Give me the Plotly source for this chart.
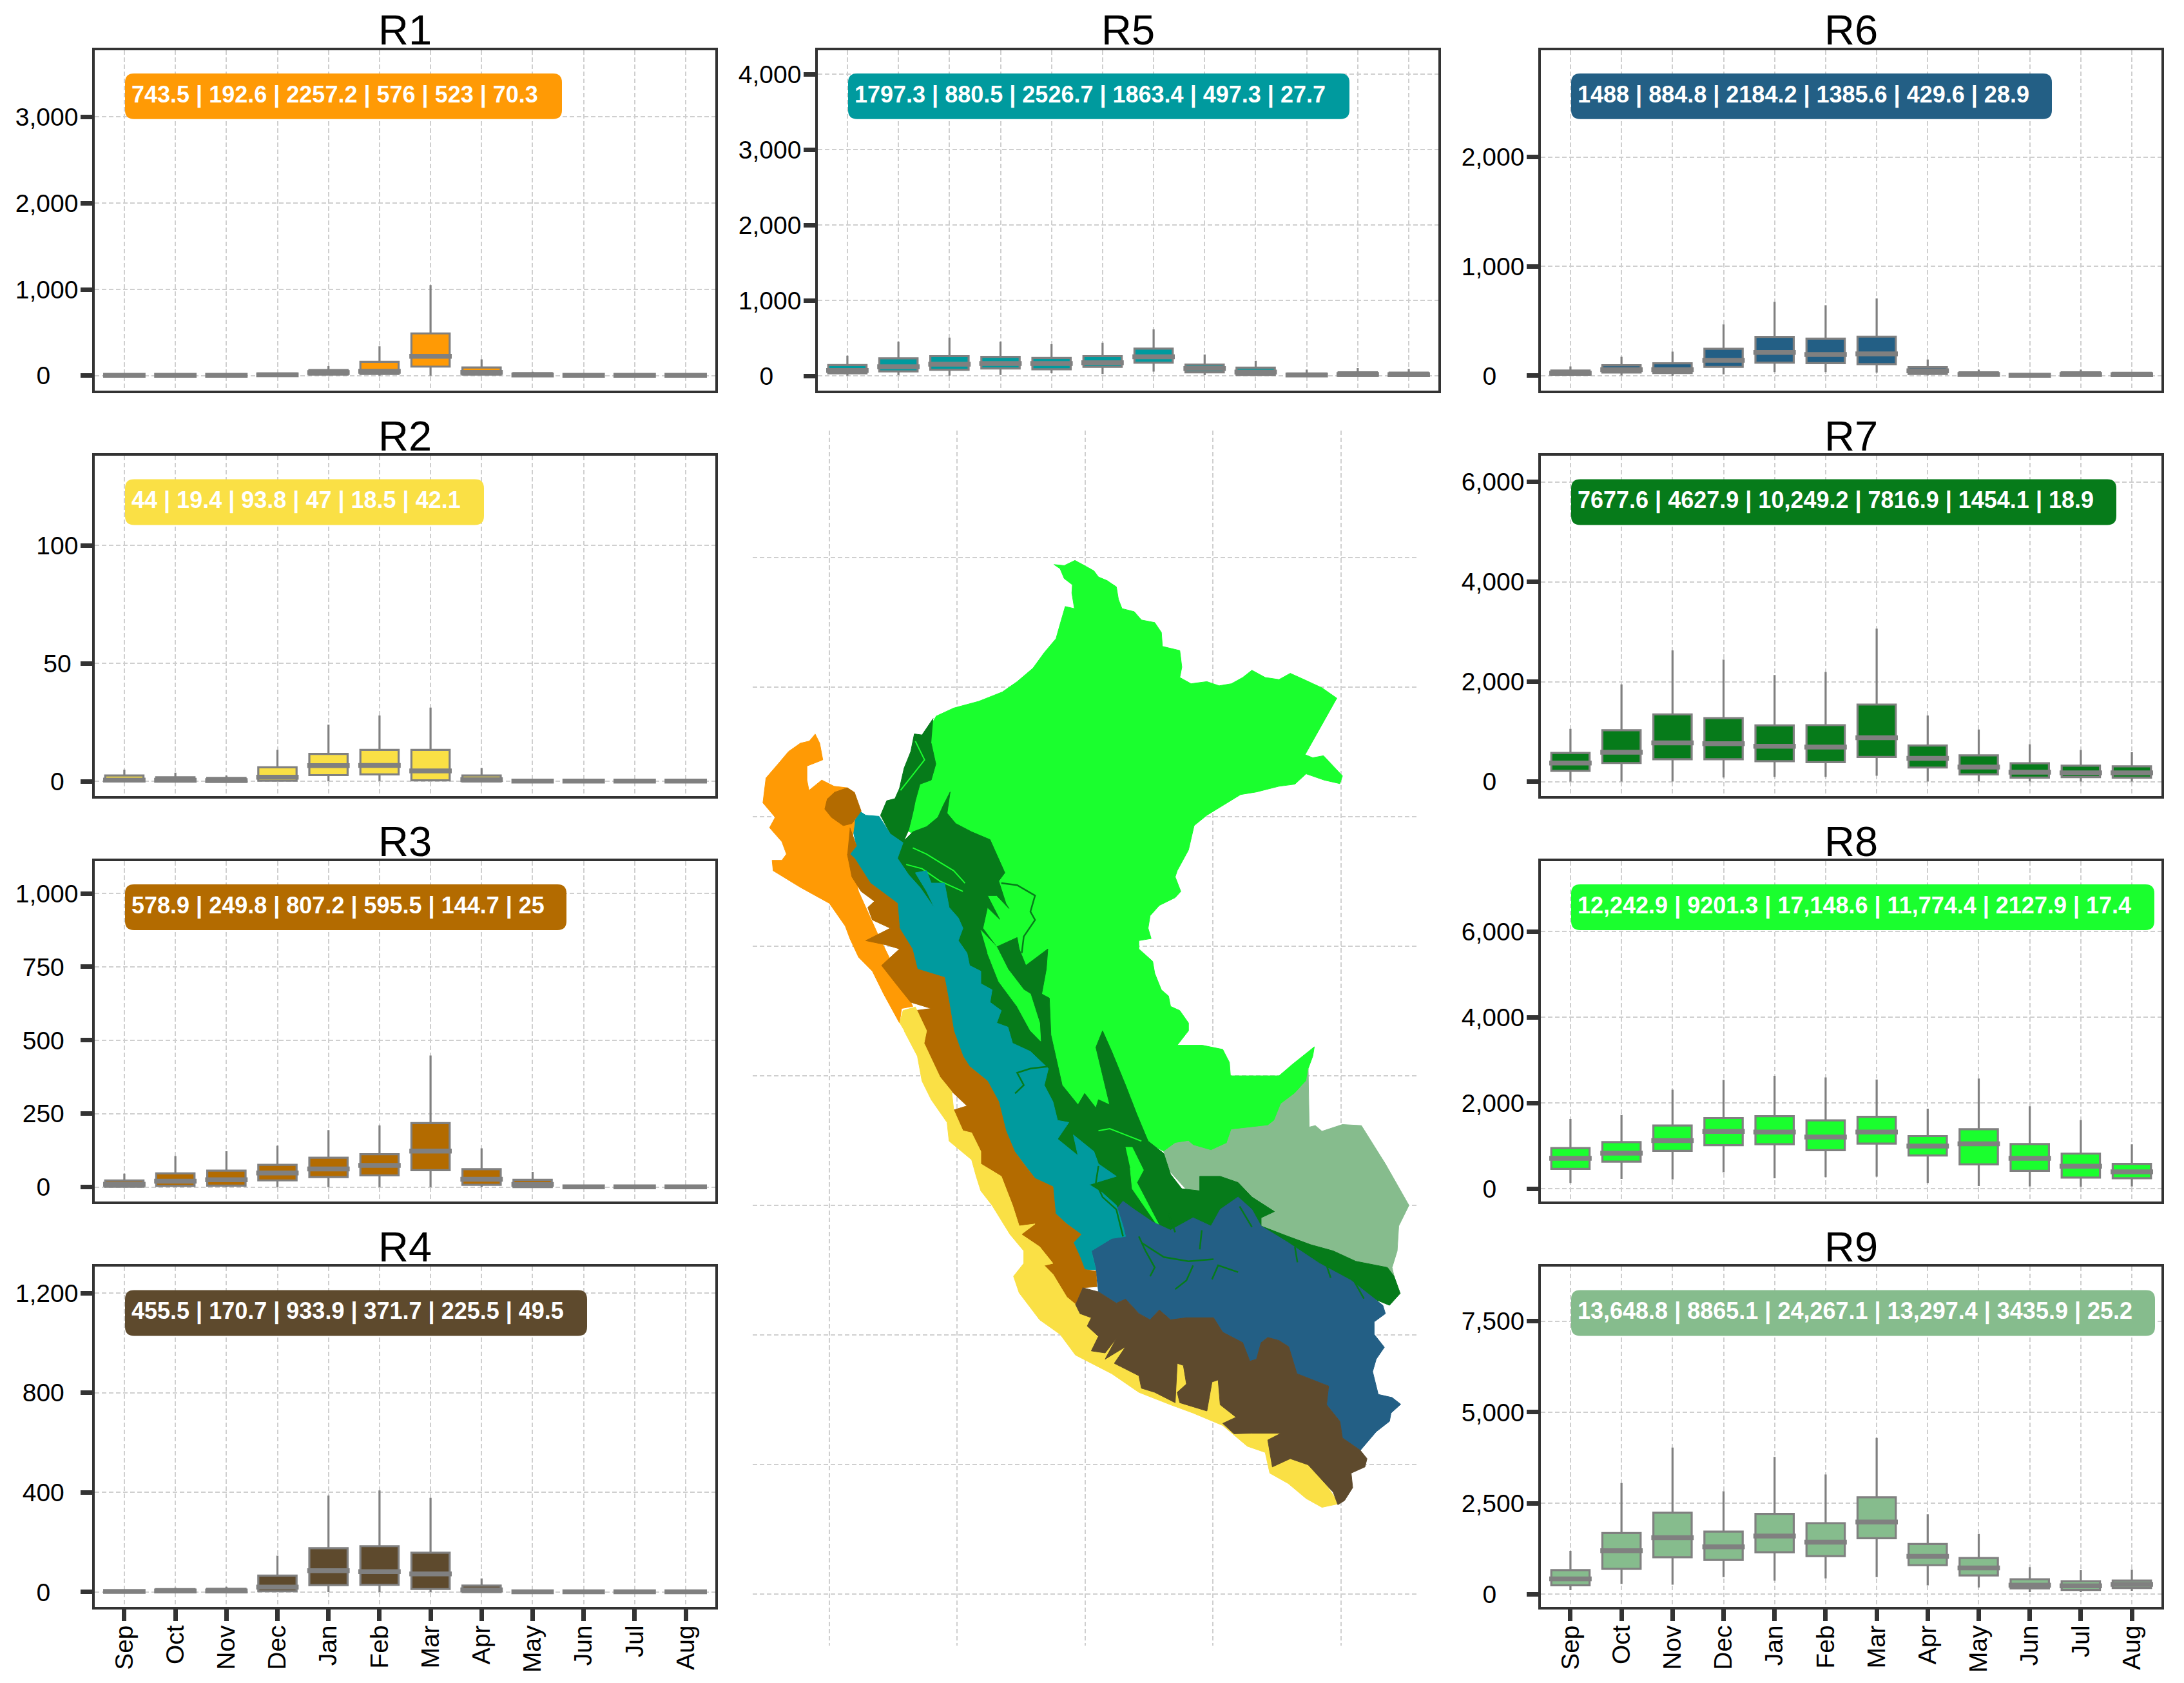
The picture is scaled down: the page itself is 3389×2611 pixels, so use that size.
import plotly.graph_objects as go

# browser body margin shifts the figure by this much in the page
PAGE_MARGIN = 8
WIDTH = 3389 - PAGE_MARGIN
HEIGHT = 2611 - PAGE_MARGIN

MONTHS = ["Sep", "Oct", "Nov", "Dec", "Jan", "Feb", "Mar", "Apr", "May", "Jun", "Jul", "Aug"]

COLORS = {
    "R1": "#FF9A05", "R2": "#FAE045", "R3": "#B36B00",
    "R4": "#5E4A2D", "R5": "#009A9E", "R6": "#235F85",
    "R7": "#067B1A", "R8": "#1AFF2E", "R9": "#86BC8D",
}
GREY = "#808080"
DARK = "#333333"
GRID = "#cfcfcf"

# monthly box stats
R1_LOW = [0, 0, 0, 0, 0, 0, 0, 0, 0, 0, 0, 0]
R1_Q1 = [2, 2, 2, 0, 12, 20, 105, 12, 0, 2, 2, 2]
R1_MED = [5, 5, 5, 10, 35, 50, 225, 38, 8, 4, 4, 4]
R1_Q3 = [10, 10, 10, 25, 65, 160, 490, 95, 30, 8, 8, 8]
R1_UP = [15, 15, 15, 35, 110, 340, 1050, 190, 45, 12, 12, 12]

R2_LOW = [0, 0, 0, 0, 0, 0.2, 0, 0, 0, 0, 0, 0]
R2_Q1 = [0, 0, 0, 0.3, 2.7, 3, 0.5, 0, 0, 0.05, 0.05, 0.05]
R2_MED = [0.6, 0.5, 0.4, 1.8, 6.7, 6.8, 4.5, 0.8, 0.2, 0.2, 0.2, 0.2]
R2_Q3 = [2.5, 1.8, 1.5, 6, 11.7, 13.4, 13.4, 2.5, 0.7, 0.4, 0.4, 0.4]
R2_UP = [5, 3.7, 2.5, 13.4, 24.1, 28, 31.3, 5.7, 1.2, 0.5, 0.5, 0.5]

R3_LOW = [0, 0, 0, 0, 0, 0, 0, 0, 0, 0, 0, 0]
R3_Q1 = [1, 4, 5, 23, 34, 40, 58, 8, 0, 0, 0, 0]
R3_MED = [10, 20, 25, 48, 62, 74, 123, 27, 9, 1, 1, 1]
R3_Q3 = [23, 47, 56, 76, 100, 112, 218, 61, 25, 3, 3, 3]
R3_UP = [46, 106, 122, 141, 194, 210, 448, 132, 52, 4, 4, 4]

R4_LOW = [0, 0, 0, 0, 0, 0, 0, 0, 0, 0, 0, 0]
R4_Q1 = [0, 0, 0, 3, 28, 29, 12, 0, 0, 0, 0, 0]
R4_MED = [2, 4, 4, 20, 86, 82, 73, 9, 1, 1, 1, 1]
R4_Q3 = [6, 12, 13, 66, 176, 184, 158, 26, 3, 3, 3, 3]
R4_UP = [8, 18, 21, 146, 387, 408, 378, 55, 5, 5, 5, 5]

R5_LOW = [5, 12, 6, 15, 37, 28, 59, 12, 5, 0, 0, 0]
R5_Q1 = [37, 62, 84, 100, 90, 121, 177, 50, 16, 2, 3, 3]
R5_MED = [75, 124, 158, 165, 165, 177, 255, 100, 53, 14, 20, 18]
R5_Q3 = [146, 236, 264, 255, 239, 264, 363, 152, 112, 35, 50, 45]
R5_UP = [270, 456, 509, 456, 422, 441, 618, 286, 202, 84, 105, 93]

R6_LOW = [0, 3, 0, 13, 34, 34, 30, 3, 0, 0, 0, 0]
R6_Q1 = [9, 30, 26, 81, 120, 116, 107, 17, 3, 0, 2, 2]
R6_MED = [24, 56, 56, 141, 214, 195, 201, 45, 12, 4, 12, 10]
R6_Q3 = [48, 96, 114, 247, 356, 339, 358, 79, 32, 15, 32, 28]
R6_UP = [86, 174, 221, 470, 677, 645, 707, 148, 56, 18, 56, 34]

R7_LOW = [0, 0, 0, 80, 94, 94, 117, 0, 0, 0, 0, 0]
R7_Q1 = [216, 371, 446, 446, 408, 389, 492, 281, 145, 80, 89, 80]
R7_MED = [371, 586, 774, 760, 708, 690, 877, 464, 291, 188, 174, 174]
R7_Q3 = [572, 1027, 1346, 1271, 1126, 1130, 1543, 722, 525, 366, 319, 305]
R7_UP = [1055, 1947, 2627, 2444, 2134, 2195, 3063, 1323, 1041, 750, 633, 586]

R8_LOW = [137, 230, 219, 383, 246, 273, 284, 137, 66, 55, 44, 55]
R8_Q1 = [465, 634, 886, 1017, 1039, 902, 1055, 776, 569, 421, 262, 246]
R8_MED = [711, 831, 1126, 1340, 1323, 1208, 1323, 995, 1050, 711, 525, 394]
R8_Q3 = [951, 1088, 1476, 1651, 1695, 1597, 1678, 1230, 1389, 1044, 820, 580]
R8_UP = [1629, 1722, 2313, 2542, 2635, 2597, 2548, 1870, 2570, 1925, 1602, 1039]

R9_LOW = [113, 287, 264, 475, 377, 438, 475, 249, 189, 60, 60, 98]
R9_Q1 = [249, 702, 1019, 943, 1155, 1049, 1540, 800, 521, 166, 121, 174]
R9_MED = [423, 1200, 1555, 1306, 1600, 1434, 1985, 1042, 725, 250, 234, 272]
R9_Q3 = [664, 1683, 2242, 1721, 2211, 1955, 2664, 1381, 996, 415, 362, 377]
R9_UP = [1192, 3057, 4030, 2830, 3774, 3291, 4294, 2196, 1660, 747, 664, 680]

LABELS = {
    "R1": "743.5 | 192.6 | 2257.2 | 576 | 523 | 70.3",
    "R2": "44 | 19.4 | 93.8 | 47 | 18.5 | 42.1",
    "R3": "578.9 | 249.8 | 807.2 | 595.5 | 144.7 | 25",
    "R4": "455.5 | 170.7 | 933.9 | 371.7 | 225.5 | 49.5",
    "R5": "1797.3 | 880.5 | 2526.7 | 1863.4 | 497.3 | 27.7",
    "R6": "1488 | 884.8 | 2184.2 | 1385.6 | 429.6 | 28.9",
    "R7": "7677.6 | 4627.9 | 10,249.2 | 7816.9 | 1454.1 | 18.9",
    "R8": "12,242.9 | 9201.3 | 17,148.6 | 11,774.4 | 2127.9 | 17.4",
    "R9": "13,648.8 | 8865.1 | 24,267.1 | 13,297.4 | 3435.9 | 25.2",
}

R1_TICKS = [0, 1000, 2000, 3000]
R2_TICKS = [0, 50, 100]
R3_TICKS = [0, 250, 500, 750, 1000]
R4_TICKS = [0, 400, 800, 1200]
R5_TICKS = [0, 1000, 2000, 3000, 4000]
R6_TICKS = [0, 1000, 2000]
R7_TICKS = [0, 2000, 4000, 6000]
R8_TICKS = [0, 2000, 4000, 6000]
R9_TICKS = [0, 2500, 5000, 7500]

LON_GRID = [-80, -77.5, -75, -72.5, -70]
LAT_GRID = [0, -2.5, -5, -7.5, -10, -12.5, -15, -17.5, -20]

R8_OUTLINE = [
    (-77.92, -3.06), (-77.57, -2.90), (-77.08, -2.77), (-76.62, -2.59), (-76.33, -2.39), (-76.02, -2.13),
    (-75.80, -1.83), (-75.57, -1.56), (-75.49, -1.28), (-75.39, -0.94), (-75.21, -0.98), (-75.26, -0.68),
    (-75.25, -0.52), (-75.41, -0.40), (-75.49, -0.21), (-75.61, -0.13), (-75.41, -0.15), (-75.20, -0.05),
    (-75.05, -0.13), (-74.83, -0.25), (-74.74, -0.37), (-74.57, -0.44), (-74.39, -0.56), (-74.35, -0.80),
    (-74.28, -0.98), (-74.04, -1.04), (-73.90, -1.20), (-73.64, -1.25), (-73.51, -1.44), (-73.49, -1.71),
    (-73.15, -1.79), (-73.11, -2.11), (-73.15, -2.31), (-72.93, -2.43), (-72.62, -2.39), (-72.38, -2.47),
    (-72.14, -2.43), (-71.92, -2.31), (-71.74, -2.17), (-71.48, -2.31), (-71.21, -2.35), (-70.99, -2.23),
    (-70.72, -2.35), (-70.37, -2.51), (-70.08, -2.71), (-70.70, -3.80), (-70.55, -3.86), (-70.34, -3.82),
    (-70.15, -4.02), (-69.97, -4.21), (-70.02, -4.36), (-70.33, -4.29), (-70.68, -4.17), (-70.90, -4.37),
    (-71.21, -4.41), (-71.65, -4.52), (-71.96, -4.57), (-72.36, -4.81), (-72.62, -4.97), (-72.87, -5.17),
    (-72.98, -5.64), (-73.20, -6.04), (-73.24, -6.16), (-73.13, -6.44), (-73.24, -6.56), (-73.55, -6.71),
    (-73.73, -6.91), (-73.77, -7.15), (-73.71, -7.35), (-73.95, -7.39), (-73.95, -7.55), (-73.68, -7.79),
    (-73.64, -8.02), (-73.51, -8.34), (-73.37, -8.46), (-73.33, -8.66), (-73.15, -8.74), (-72.98, -8.98),
    (-72.98, -9.13), (-73.20, -9.41), (-72.71, -9.41), (-72.31, -9.49), (-72.18, -9.74), (-72.16, -10.0),
    (-71.21, -10.0), (-70.95, -9.78), (-70.52, -9.44), (-70.55, -9.62), (-70.64, -9.86), (-70.68, -10.10),
    (-70.90, -10.34), (-71.17, -10.54), (-71.30, -10.86), (-71.43, -10.96), (-72.14, -11.04), (-72.23, -11.30),
    (-72.54, -11.44), (-72.89, -11.34), (-72.98, -11.26), (-73.24, -11.30), (-73.46, -11.46), (-74.30, -11.00),
    (-75.30, -11.00), (-76.00, -10.00), (-77.00, -8.50), (-77.60, -7.00), (-77.70, -6.00), (-78.19, -5.40),
    (-78.52, -5.25), (-78.28, -3.66),
]
R8_TONGUE = [
    (-77.04, -7.19), (-76.73, -7.51), (-76.51, -7.94), (-76.20, -8.34), (-76.07, -8.42), (-75.89, -8.98),
    (-75.87, -9.33), (-76.07, -9.13), (-76.33, -8.66), (-76.69, -8.18), (-76.91, -7.63),
]
R8_SLIVER = [
    (-74.21, -11.38), (-74.08, -11.38), (-73.86, -11.82), (-73.99, -12.06), (-73.46, -13.06), (-73.55, -12.94),
    (-74.08, -12.18), (-74.12, -11.78),
]
R9_OUTLINE = [
    (-70.64, -9.86), (-70.62, -10.99), (-70.50, -10.96), (-70.37, -11.07), (-69.97, -10.94), (-69.60, -10.96),
    (-69.13, -11.70), (-68.67, -12.50), (-68.87, -12.90), (-68.90, -13.38), (-69.00, -13.70), (-68.96, -13.87),
    (-70.24, -13.54), (-71.56, -12.98), (-72.00, -12.50), (-72.89, -12.34), (-73.33, -11.86), (-73.46, -11.46),
    (-73.24, -11.30), (-72.98, -11.26), (-72.89, -11.34), (-72.54, -11.44), (-72.23, -11.30), (-72.14, -11.04),
    (-71.43, -10.96), (-71.30, -10.86), (-71.17, -10.54), (-70.90, -10.34), (-70.68, -10.10),
]
R7_NORTH = [
    (-77.97, -3.10), (-78.19, -3.42), (-78.34, -3.40), (-78.41, -3.74), (-78.54, -4.06), (-78.63, -4.45),
    (-78.72, -4.65), (-78.88, -4.69), (-79.00, -4.97), (-78.81, -5.33), (-78.56, -5.50), (-78.45, -5.25),
    (-78.37, -4.93), (-78.32, -4.69), (-78.23, -4.37), (-78.01, -4.29), (-77.92, -3.98), (-78.01, -3.58),
]
R7_MAIN = [
    (-78.67, -5.80), (-78.56, -5.48), (-78.37, -5.29), (-78.10, -5.19), (-77.88, -5.01), (-77.77, -4.77),
    (-77.64, -4.52), (-77.70, -4.93), (-77.53, -5.13), (-77.22, -5.29), (-76.86, -5.44), (-76.73, -5.72),
    (-76.57, -6.08), (-76.69, -6.24), (-76.55, -6.67), (-76.49, -6.77), (-76.73, -6.52), (-76.91, -6.52),
    (-76.67, -6.98), (-76.91, -6.75), (-77.00, -7.15), (-76.73, -7.51), (-76.33, -7.33), (-76.29, -7.55),
    (-76.16, -7.87), (-75.73, -7.55), (-75.76, -7.94), (-75.85, -8.42), (-75.70, -8.50), (-75.67, -9.21),
    (-75.54, -9.76), (-75.45, -10.18), (-75.14, -10.56), (-75.01, -10.34), (-74.79, -10.62), (-74.74, -10.46),
    (-74.52, -10.56), (-74.79, -9.45), (-74.66, -9.13), (-74.48, -9.53), (-74.21, -10.18), (-73.99, -10.74),
    (-73.77, -11.26), (-73.46, -11.50), (-73.33, -11.90), (-73.11, -12.18), (-72.76, -12.22), (-72.76, -11.94),
    (-72.36, -11.94), (-72.01, -12.06), (-71.74, -12.34), (-71.30, -12.62), (-71.56, -12.74), (-71.56, -12.90),
    (-71.03, -13.10), (-70.59, -13.26), (-70.15, -13.38), (-69.71, -13.58), (-69.09, -13.70), (-68.96, -13.87),
    (-68.84, -14.20), (-69.05, -14.43), (-71.12, -13.60), (-72.89, -13.20), (-74.20, -13.10), (-74.90, -12.40),
    (-75.90, -11.20), (-76.60, -10.00), (-77.30, -8.80), (-77.90, -7.20), (-78.45, -6.60), (-78.75, -5.95),
]
R6_OUTLINE = [
    (-74.88, -13.38), (-74.48, -13.14), (-74.21, -13.06), (-74.39, -12.58), (-74.26, -12.42), (-74.04, -12.58),
    (-73.68, -12.82), (-73.33, -12.98), (-72.89, -12.74), (-72.54, -12.90), (-72.36, -12.58), (-72.01, -12.34),
    (-71.74, -12.58), (-71.56, -12.90), (-71.03, -13.22), (-70.42, -13.62), (-69.80, -13.95), (-69.18, -14.43),
    (-69.13, -14.59), (-69.35, -14.75), (-69.35, -14.99), (-69.15, -15.24), (-69.31, -15.47), (-69.38, -15.71),
    (-69.27, -16.15), (-69.00, -16.21), (-68.83, -16.34), (-69.02, -16.51), (-69.05, -16.67), (-69.31, -16.87),
    (-69.62, -17.23), (-69.97, -16.99), (-70.02, -16.67), (-70.28, -16.35), (-70.24, -15.99), (-70.86, -15.75),
    (-71.02, -15.23), (-71.21, -15.11), (-71.43, -15.05), (-71.56, -15.15), (-71.65, -15.47), (-71.78, -15.51),
    (-71.92, -15.15), (-72.31, -14.95), (-72.49, -14.67), (-73.02, -14.67), (-73.33, -14.71), (-73.55, -14.52),
    (-73.73, -14.71), (-73.95, -14.59), (-74.21, -14.31), (-74.39, -14.39), (-74.74, -14.17), (-74.79, -13.74),
]
R5_OUTLINE = [
    (-79.41, -4.89), (-79.29, -4.97), (-79.03, -4.99), (-78.81, -5.33), (-78.56, -5.50), (-78.67, -5.80),
    (-78.45, -6.12), (-78.23, -6.36), (-78.06, -6.60), (-77.94, -6.77), (-78.10, -6.44), (-78.32, -6.08),
    (-78.10, -6.04), (-78.01, -6.28), (-77.75, -6.28), (-77.66, -6.75), (-77.48, -6.95), (-77.39, -7.15),
    (-77.48, -7.39), (-77.31, -7.63), (-77.26, -7.87), (-77.04, -7.98), (-77.04, -8.22), (-76.82, -8.34),
    (-76.86, -8.58), (-76.64, -8.74), (-76.73, -8.98), (-76.51, -9.06), (-76.42, -9.37), (-76.07, -9.53),
    (-75.72, -9.86), (-75.80, -10.18), (-75.63, -10.50), (-75.54, -10.86),
    (-75.32, -10.90), (-75.54, -11.22), (-75.14, -11.54), (-75.23, -11.14), (-74.83, -11.46), (-74.74, -11.70),
    (-74.39, -11.94), (-74.66, -12.02), (-74.92, -12.10), (-74.66, -12.26), (-74.39, -12.50), (-74.26, -12.90),
    (-74.21, -13.10), (-74.48, -13.14), (-74.88, -13.38), (-74.79, -13.74), (-75.01, -13.74), (-75.10, -13.50),
    (-75.23, -13.22), (-75.08, -13.06), (-75.36, -12.86), (-75.58, -12.66), (-75.63, -12.14), (-75.98, -11.98),
    (-76.20, -11.70), (-76.38, -11.46), (-76.55, -11.06), (-76.69, -10.50), (-76.91, -10.10), (-77.26, -9.82),
    (-77.39, -9.62), (-77.57, -9.13), (-77.66, -8.58), (-77.75, -8.10), (-78.28, -7.94), (-78.38, -7.55),
    (-78.63, -7.15), (-78.67, -6.67), (-79.20, -6.28), (-79.51, -5.80), (-79.60, -5.72), (-79.47, -5.56),
    (-79.56, -5.17),
]
R1_OUTLINE = [
    (-80.28, -3.40), (-80.19, -3.58), (-80.13, -3.90), (-80.44, -4.02), (-80.44, -4.29), (-80.40, -4.49),
    (-80.15, -4.29), (-79.91, -4.41), (-79.65, -4.44), (-79.51, -4.53), (-79.51, -5.13), (-79.60, -5.72),
    (-79.43, -6.44), (-79.07, -7.23), (-78.72, -7.94), (-78.37, -8.66), (-78.59, -8.70), (-78.63, -8.98),
    (-78.94, -8.42), (-79.16, -7.98), (-79.43, -7.71), (-79.60, -7.35), (-79.69, -7.11), (-80.00, -6.67),
    (-80.57, -6.36), (-80.84, -6.20), (-81.10, -6.04), (-81.12, -5.84), (-80.93, -5.84), (-80.84, -5.72),
    (-80.93, -5.48), (-81.17, -5.21), (-81.06, -5.01), (-81.30, -4.73), (-81.24, -4.25), (-80.97, -3.94),
    (-80.80, -3.74), (-80.57, -3.58), (-80.40, -3.54),
]
R3_NORTH = [
    (-79.91, -4.53), (-79.65, -4.44), (-79.51, -4.53), (-79.38, -4.89), (-79.56, -5.13), (-79.73, -5.17),
    (-79.96, -5.01), (-80.09, -4.85), (-80.04, -4.65),
]
R3_MAIN = [
    (-79.60, -5.21), (-79.47, -5.56), (-79.60, -5.72), (-79.51, -5.80), (-79.20, -6.28), (-78.67, -6.67),
    (-78.63, -7.15), (-78.38, -7.55), (-78.28, -7.94), (-77.75, -8.10), (-77.66, -8.58), (-77.57, -9.13),
    (-77.39, -9.62), (-77.26, -9.82), (-76.91, -10.10), (-76.69, -10.50), (-76.55, -11.06), (-76.38, -11.46),
    (-76.20, -11.70), (-75.98, -11.98), (-75.63, -12.14), (-75.58, -12.66), (-75.36, -12.86), (-75.08, -13.06),
    (-75.23, -13.22), (-75.10, -13.50), (-75.01, -13.74), (-74.79, -13.77), (-74.77, -14.07), (-75.05, -14.09),
    (-75.19, -14.41), (-75.36, -14.27), (-75.63, -13.83), (-75.80, -13.66), (-75.63, -13.62), (-75.89, -13.30),
    (-76.25, -13.06), (-75.98, -12.86), (-76.29, -12.90), (-76.42, -12.50), (-76.64, -11.94), (-77.04, -11.70),
    (-77.04, -11.46), (-77.22, -11.10), (-77.39, -11.06), (-77.57, -10.66), (-77.31, -10.58), (-77.61, -10.30),
    (-77.84, -10.02), (-78.15, -9.37), (-78.15, -9.13), (-78.32, -8.74), (-78.01, -8.70), (-78.41, -8.58),
    (-78.67, -8.26), (-78.98, -7.87), (-78.63, -7.55), (-78.90, -7.47), (-79.29, -7.39), (-78.81, -7.15),
    (-79.16, -6.99), (-79.25, -6.75), (-79.12, -6.63), (-79.38, -6.44), (-79.56, -6.16), (-79.65, -5.72),
]
R2_OUTLINE = [
    (-78.63, -8.98), (-78.56, -8.74), (-78.32, -8.67), (-78.10, -9.13), (-78.15, -9.37), (-77.84, -10.02),
    (-77.61, -10.30), (-77.57, -10.66), (-77.39, -11.06), (-77.22, -11.10), (-77.04, -11.46), (-77.04, -11.70),
    (-76.64, -11.94), (-76.42, -12.50), (-76.29, -12.90), (-75.98, -12.86), (-76.25, -13.06), (-75.89, -13.30),
    (-75.63, -13.62), (-75.80, -13.66), (-75.63, -13.83), (-75.36, -14.27), (-75.19, -14.41), (-73.77, -15.39),
    (-72.36, -15.39), (-70.68, -17.31), (-70.04, -18.26), (-70.37, -18.33), (-70.68, -18.16), (-71.03, -17.87),
    (-71.39, -17.67), (-71.48, -17.27), (-71.83, -17.15), (-72.31, -16.75), (-72.89, -16.51), (-73.33, -16.35),
    (-73.95, -16.11), (-74.48, -15.75), (-75.19, -15.39), (-75.49, -14.99), (-75.89, -14.71), (-76.16, -14.35),
    (-76.29, -14.19), (-76.40, -13.87), (-76.20, -13.62), (-76.20, -13.38), (-76.47, -13.06), (-76.82, -12.50),
    (-77.04, -12.22), (-77.13, -11.94), (-77.22, -11.62), (-77.66, -11.26), (-77.70, -10.90), (-78.01, -10.46),
    (-78.19, -10.10), (-78.28, -9.62), (-78.54, -9.13),
]
R4_OUTLINE = [
    (-75.05, -14.09), (-74.74, -14.17), (-74.39, -14.39), (-74.21, -14.31), (-73.95, -14.59), (-73.73, -14.71),
    (-73.55, -14.52), (-73.33, -14.71), (-73.02, -14.67), (-72.49, -14.67), (-72.31, -14.95), (-71.92, -15.15),
    (-71.78, -15.51), (-71.65, -15.47), (-71.56, -15.15), (-71.43, -15.05), (-71.21, -15.11), (-71.02, -15.23),
    (-70.86, -15.75), (-70.24, -15.99), (-70.28, -16.35), (-70.02, -16.67), (-69.97, -16.99), (-69.62, -17.23),
    (-69.49, -17.39), (-69.53, -17.55), (-69.80, -17.67), (-69.77, -17.95), (-69.93, -18.20), (-70.06, -18.28),
    (-70.15, -18.04), (-70.46, -17.71), (-70.64, -17.51), (-70.99, -17.39), (-71.34, -17.55), (-71.43, -17.03),
    (-71.17, -16.90), (-71.74, -16.90), (-72.09, -16.91), (-72.31, -16.71), (-72.05, -16.59), (-72.36, -16.35),
    (-72.40, -15.87), (-72.52, -15.91), (-72.62, -16.47), (-73.15, -16.31), (-73.20, -16.11), (-73.02, -15.95),
    (-73.08, -15.59), (-73.20, -15.55), (-73.24, -16.31), (-73.64, -16.11), (-73.90, -16.03), (-73.95, -15.79),
    (-74.43, -15.55), (-74.21, -15.23), (-74.61, -15.47), (-74.39, -15.07), (-74.61, -15.35), (-74.88, -15.31),
    (-74.74, -15.03), (-74.96, -14.83), (-74.88, -14.67), (-75.10, -14.59), (-75.19, -14.41),
]

# thin drainage lines crossing the regions
R7_STREAMS = [
    [(-76.64, -6.28), (-76.33, -6.32), (-75.98, -6.52), (-76.07, -6.83), (-75.98, -6.99), (-76.20, -7.31), (-76.24, -7.63)],
    [(-75.72, -9.82), (-76.07, -9.86), (-76.33, -9.94), (-76.20, -10.18), (-76.37, -10.34)],
    [(-74.74, -11.74), (-74.79, -12.06), (-74.66, -12.34), (-74.39, -12.58), (-74.26, -13.10)],
    [(-73.95, -13.10), (-73.82, -13.38), (-73.64, -13.70), (-73.73, -13.87)],
    [(-73.90, -13.22), (-73.46, -13.50), (-72.98, -13.58), (-72.49, -13.54)],
    [(-72.89, -13.66), (-73.02, -13.95), (-73.24, -14.12)],
    [(-72.52, -13.93), (-72.40, -13.66), (-72.01, -13.79)],
    [(-72.76, -13.35), (-72.72, -12.98)],
    [(-71.74, -12.92), (-71.98, -12.52)],
    [(-73.24, -13.02), (-73.37, -12.66)],
    [(-70.90, -13.30), (-70.85, -13.60)],
    [(-70.30, -13.60), (-70.20, -13.90)],
    [(-69.75, -13.95), (-69.55, -14.30)],
]
R8_STREAMS = [
    [(-78.37, -5.60), (-78.10, -5.72), (-77.84, -5.88), (-77.57, -6.04), (-77.35, -6.28)],
    [(-78.50, -5.92), (-78.19, -6.00), (-77.84, -6.24), (-77.39, -6.44)],
    [(-78.32, -3.54), (-78.14, -3.90), (-78.45, -4.29), (-78.61, -4.49)],
    [(-74.74, -11.06), (-74.52, -11.02), (-74.21, -11.14), (-73.90, -11.26)],
]

# panel frames in page pixels
PANEL_W = 963
PANEL_H = 528
COL_X = [147, 1269, 2391]
ROW_Y = [78, 708, 1337, 1967]

PANELS = [
    ("R1", COL_X[0], ROW_Y[0], R1_LOW, R1_Q1, R1_MED, R1_Q3, R1_UP, R1_TICKS, [-170, 3774], 725),
    ("R2", COL_X[0], ROW_Y[1], R2_LOW, R2_Q1, R2_MED, R2_Q3, R2_UP, R2_TICKS, [-6.2, 138], 604),
    ("R3", COL_X[0], ROW_Y[2], R3_LOW, R3_Q1, R3_MED, R3_Q3, R3_UP, R3_TICKS, [-48, 1110], 732),
    ("R4", COL_X[0], ROW_Y[3], R4_LOW, R4_Q1, R4_MED, R4_Q3, R4_UP, R4_TICKS, [-60, 1305], 764),
    ("R5", COL_X[1], ROW_Y[0], R5_LOW, R5_Q1, R5_MED, R5_Q3, R5_UP, R5_TICKS, [-189, 4317], 825),
    ("R6", COL_X[2], ROW_Y[0], R6_LOW, R6_Q1, R6_MED, R6_Q3, R6_UP, R6_TICKS, [-133, 2977], 793),
    ("R7", COL_X[2], ROW_Y[1], R7_LOW, R7_Q1, R7_MED, R7_Q3, R7_UP, R7_TICKS, [-291, 6520], 893),
    ("R8", COL_X[2], ROW_Y[2], R8_LOW, R8_Q1, R8_MED, R8_Q3, R8_UP, R8_TICKS, [-290, 7643], 952),
    ("R9", COL_X[2], ROW_Y[3], R9_LOW, R9_Q1, R9_MED, R9_Q3, R9_UP, R9_TICKS, [-347, 8989], 953),
]


def px(x):
    return (x - PAGE_MARGIN) / WIDTH


def py(y):
    return 1 - (y - PAGE_MARGIN) / HEIGHT


def rounded_path(x0, y0, x1, y1, r=14):
    return (
        f"M {px(x0 + r)} {py(y0)} L {px(x1 - r)} {py(y0)} Q {px(x1)} {py(y0)} {px(x1)} {py(y0 + r)} "
        f"L {px(x1)} {py(y1 - r)} Q {px(x1)} {py(y1)} {px(x1 - r)} {py(y1)} "
        f"L {px(x0 + r)} {py(y1)} Q {px(x0)} {py(y1)} {px(x0)} {py(y1 - r)} "
        f"L {px(x0)} {py(y0 + r)} Q {px(x0)} {py(y0)} {px(x0 + r)} {py(y0)} Z"
    )


def centered_ticktext(ticks):
    # reference centres the y labels, so pad the short ones on the right
    texts = [f"{t:,}" for t in ticks]
    widths = [0.556 * sum(c.isdigit() for c in s) + 0.278 * s.count(",") for s in texts]
    longest = max(widths)
    return [s + "\u00a0" * round((longest - w) / 2 / 0.278) for s, w in zip(texts, widths)]


fig = go.Figure()
layout = {}
shapes = []
annotations = []

for i, (name, left, top, low, q1, med, q3, up, ticks, yrange, label_w) in enumerate(PANELS, start=1):
    suffix = "" if i == 1 else str(i)
    xref, yref = f"x{suffix}", f"y{suffix}"
    bottom_row = top == ROW_Y[3]

    fig.add_trace(
        go.Box(
            x=MONTHS,
            lowerfence=low,
            q1=q1,
            median=med,
            q3=q3,
            upperfence=up,
            xaxis=xref,
            yaxis=yref,
            width=0.75,
            whiskerwidth=0,
            fillcolor=COLORS[name],
            line=dict(color=GREY, width=3.2),
            boxpoints=False,
            showlegend=False,
        )
    )
    # ggplot style heavy median bar
    fig.add_trace(
        go.Scatter(
            x=MONTHS,
            y=med,
            xaxis=xref,
            yaxis=yref,
            mode="markers",
            marker=dict(symbol="line-ew", size=47, line=dict(color=GREY, width=7.5)),
            showlegend=False,
            hoverinfo="skip",
        )
    )

    layout[f"xaxis{suffix}"] = dict(
        domain=[px(left), px(left + PANEL_W)],
        anchor=yref,
        type="category",
        categoryorder="array",
        categoryarray=MONTHS,
        range=[-0.58, 11.58],
        showgrid=True,
        gridcolor=GRID,
        gridwidth=1.5,
        griddash="7px,4px",
        showline=True,
        mirror=True,
        linecolor=DARK,
        linewidth=3.5,
        ticks="outside" if bottom_row else "",
        ticklen=18,
        tickwidth=6.7,
        tickcolor=DARK,
        tickangle=-90,
        ticklabelstandoff=-9,
        showticklabels=bottom_row,
        tickfont=dict(size=39, color="black"),
    )
    layout[f"yaxis{suffix}"] = dict(
        domain=[py(top + PANEL_H), py(top)],
        anchor=xref,
        range=yrange,
        tickmode="array",
        tickvals=ticks,
        ticktext=centered_ticktext(ticks),
        showgrid=True,
        gridcolor=GRID,
        gridwidth=1.5,
        griddash="7px,4px",
        zeroline=False,
        showline=True,
        mirror=True,
        linecolor=DARK,
        linewidth=3.5,
        ticks="outside",
        ticklen=18,
        tickwidth=6.7,
        tickcolor=DARK,
        ticklabelstandoff=-4,
        tickfont=dict(size=39, color="black"),
    )

    shapes.append(
        dict(
            type="path",
            xref="paper",
            yref="paper",
            path=rounded_path(left + 47, top + 36, left + label_w, top + 107),
            fillcolor=COLORS[name],
            line=dict(width=0),
            layer="above",
        )
    )
    annotations.append(
        dict(
            text=LABELS[name],
            xref="paper",
            yref="paper",
            x=px(left + 55),
            y=py(top + 69),
            xanchor="left",
            yanchor="middle",
            showarrow=False,
            font=dict(size=36, color="white", family="Liberation Sans", weight="bold"),
        )
    )
    annotations.append(
        dict(
            text=name,
            xref="paper",
            yref="paper",
            x=px(left + PANEL_W / 2),
            y=py(top - 31),
            xanchor="center",
            yanchor="middle",
            showarrow=False,
            font=dict(size=65, color="black", family="Liberation Sans"),
        )
    )


def add_region(outline, color):
    lon, lat = zip(*outline)
    fig.add_trace(
        go.Scatter(
            x=list(lon),
            y=list(lat),
            xaxis="x10",
            yaxis="y10",
            mode="lines",
            fill="toself",
            fillcolor=color,
            line=dict(color=color, width=1),
            showlegend=False,
            hoverinfo="skip",
        )
    )


def add_stream(points, color, width):
    lon, lat = zip(*points)
    fig.add_trace(
        go.Scatter(
            x=list(lon),
            y=list(lat),
            xaxis="x10",
            yaxis="y10",
            mode="lines",
            line=dict(color=color, width=width),
            showlegend=False,
            hoverinfo="skip",
        )
    )


add_region(R8_OUTLINE, COLORS["R8"])
add_region(R9_OUTLINE, COLORS["R9"])
add_region(R7_NORTH, COLORS["R7"])
add_region(R7_MAIN, COLORS["R7"])
add_region(R8_TONGUE, COLORS["R8"])
add_region(R8_SLIVER, COLORS["R8"])
for stream in R8_STREAMS:
    add_stream(stream, COLORS["R8"], 2)
add_region(R6_OUTLINE, COLORS["R6"])
add_region(R5_OUTLINE, COLORS["R5"])
for stream in R7_STREAMS:
    add_stream(stream, COLORS["R7"], 2.5)
add_region(R1_OUTLINE, COLORS["R1"])
add_region(R3_NORTH, COLORS["R3"])
add_region(R3_MAIN, COLORS["R3"])
add_region(R2_OUTLINE, COLORS["R2"])
add_region(R4_OUTLINE, COLORS["R4"])

layout["xaxis10"] = dict(
    domain=[px(1168), px(2199)],
    anchor="y10",
    range=[-81.5, -68.51],
    tickmode="array",
    tickvals=LON_GRID,
    showticklabels=False,
    ticks="",
    showgrid=True,
    gridcolor=GRID,
    gridwidth=1.5,
    griddash="7px,4px",
    zeroline=False,
    showline=False,
)
layout["yaxis10"] = dict(
    domain=[py(2555), py(669)],
    anchor="x10",
    range=[-21.0, 2.45],
    tickmode="array",
    tickvals=LAT_GRID,
    showticklabels=False,
    ticks="",
    showgrid=True,
    gridcolor=GRID,
    gridwidth=1.5,
    griddash="7px,4px",
    zeroline=False,
    showline=False,
)

fig.update_layout(
    width=WIDTH,
    height=HEIGHT,
    margin=dict(l=0, r=0, t=0, b=0),
    paper_bgcolor="white",
    plot_bgcolor="white",
    font=dict(family="Liberation Sans"),
    shapes=shapes,
    annotations=annotations,
    showlegend=False,
    **layout,
)

fig.write_html("out.html")
